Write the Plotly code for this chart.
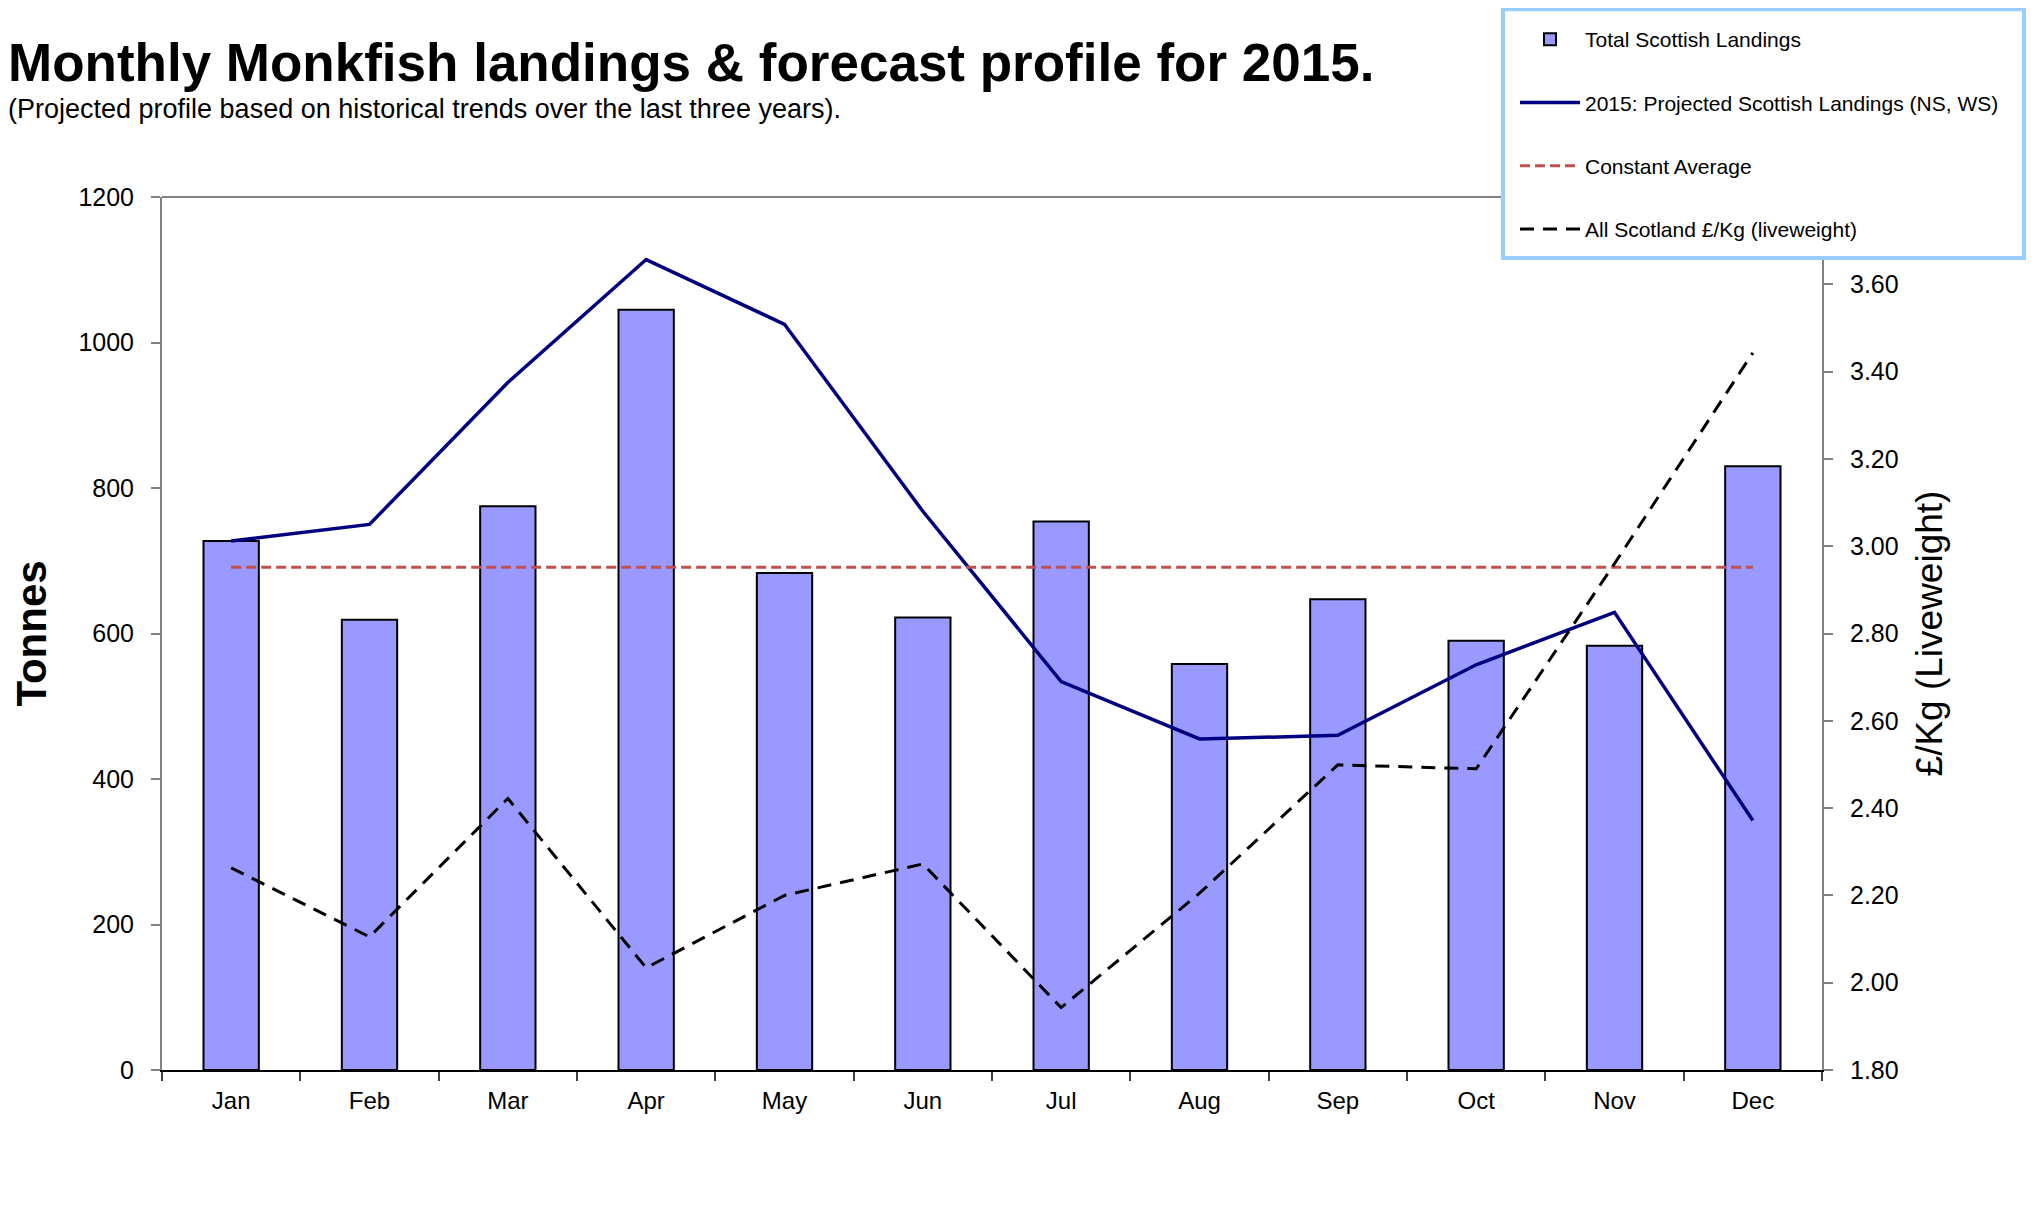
import plotly.graph_objects as go

months = ["Jan", "Feb", "Mar", "Apr", "May", "Jun", "Jul", "Aug", "Sep", "Oct", "Nov", "Dec"]
total_landings = [727, 619, 775, 1045, 683, 622, 754, 558, 647, 590, 583, 830]
projected_2015 = [727, 750, 945, 1114, 1025, 768, 534, 455, 460, 557, 629, 343]
constant_average = [691] * 12
price_per_kg = [2.263, 2.105, 2.422, 2.034, 2.20, 2.272, 1.943, 2.205, 2.499, 2.49, 2.96, 3.443]

FONT = "Liberation Sans, Arial, sans-serif"

fig = go.Figure()
fig.add_trace(go.Bar(
    x=months, y=total_landings, name="Total Scottish Landings",
    marker=dict(color="#9999FF", line=dict(color="black", width=2)),
    legendgroup="a", yaxis="y"))
fig.add_trace(go.Scatter(
    x=months, y=projected_2015, name="2015: Projected Scottish Landings (NS, WS)",
    mode="lines", line=dict(color="#000080", width=3.5), legendgroup="b", yaxis="y"))
fig.add_trace(go.Scatter(
    x=months, y=constant_average, name="Constant Average",
    mode="lines", line=dict(color="#C0504D", width=3, dash="10px,5px"), legendgroup="c", yaxis="y"))
fig.add_trace(go.Scatter(
    x=months, y=price_per_kg, name="All Scotland £/Kg (liveweight)",
    mode="lines", line=dict(color="black", width=3, dash="14px,9px"), legendgroup="d", yaxis="y2"))

W, H = 2026, 1212
L, R, T, B = 154, 212, 188, 150
PW, PH = W - L - R, H - T - B


def px(x):
    return (x - L) / PW


def py(y):
    return (H - B - y) / PH


fig.update_layout(
    width=W, height=H,
    margin=dict(l=L, r=R, t=T, b=B, pad=0),
    paper_bgcolor="white", plot_bgcolor="white",
    font=dict(family=FONT, color="black"),
    bargap=0.6,
    showlegend=True,
    legend=dict(
        x=px(1507), y=py(11), xanchor="left", yanchor="top",
        bgcolor="rgba(0,0,0,0)", borderwidth=0,
        font=dict(family=FONT, size=21, color="black"),
        traceorder="grouped", tracegroupgap=33, itemwidth=60,
    ),
    xaxis=dict(
        type="category", showline=True, linecolor="black", linewidth=2,
        ticks="outside", ticklen=9, tickcolor="#404040", tickwidth=1.5, tickson="boundaries",
        tickfont=dict(family=FONT, size=24), showgrid=False, ticklabelstandoff=8,
    ),
    yaxis=dict(
        range=[0, 1200], dtick=200, showline=True, linecolor="#808080", linewidth=2,
        ticks="outside", ticklen=9, tickcolor="#808080", tickwidth=1.5,
        tickfont=dict(family=FONT, size=25), showgrid=False, zeroline=False,
        ticklabelstandoff=12,
        title=dict(text="<b>Tonnes</b>", font=dict(family=FONT, size=42), standoff=30),
    ),
    yaxis2=dict(
        range=[1.8, 3.8], dtick=0.2, tickformat=".2f", overlaying="y", side="right",
        showline=True, linecolor="#808080", linewidth=2,
        ticks="outside", ticklen=9, tickcolor="#808080", tickwidth=1.5,
        tickfont=dict(family=FONT, size=25), showgrid=False, zeroline=False,
        ticklabelstandoff=12,
        title=dict(text="£/Kg (Liveweight)", font=dict(family=FONT, size=37), standoff=18),
    ),
    shapes=[
        dict(type="line", xref="paper", yref="paper", x0=0, x1=1, y0=1, y1=1,
             line=dict(color="#808080", width=2), layer="below"),
        dict(type="rect", xref="paper", yref="paper",
             x0=px(1495), x1=px(2016), y0=py(249), y1=py(0),
             fillcolor="white", line=dict(color="#99CCFF", width=4), layer="above"),
    ],
    annotations=[
        dict(text="<b>Monthly Monkfish landings & forecast profile for 2015.</b>",
             xref="paper", yref="paper", x=px(-2), y=py(53),
             xanchor="left", yanchor="middle", showarrow=False,
             font=dict(family=FONT, size=53, color="black")),
        dict(text="(Projected profile based on historical trends over the last three years).",
             xref="paper", yref="paper", x=px(-2), y=py(100),
             xanchor="left", yanchor="middle", showarrow=False,
             font=dict(family=FONT, size=27, color="black")),
    ],
)

fig.write_html("out.html")
